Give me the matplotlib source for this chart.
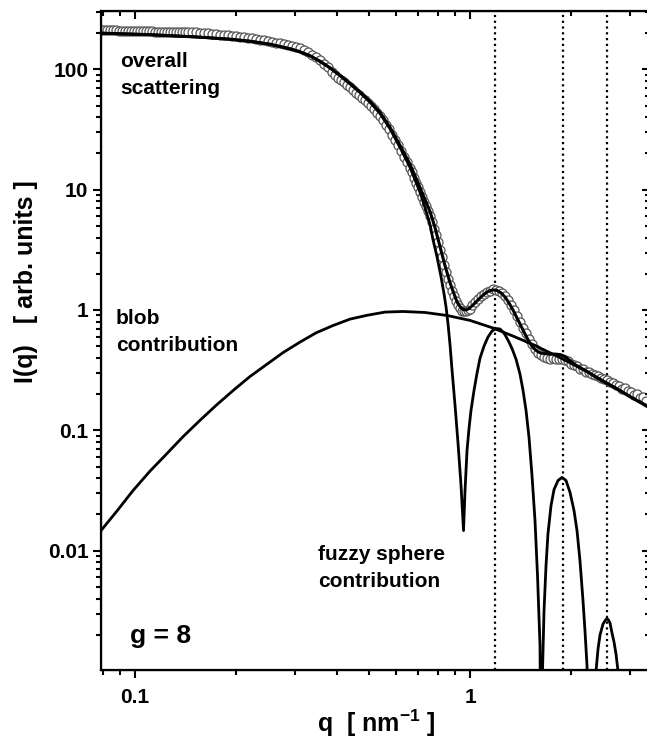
import matplotlib
matplotlib.use('Agg')
import matplotlib.pyplot as plt
import matplotlib.ticker as ticker

plt.rcParams['font.family'] = ['Liberation Sans', 'DejaVu Sans']
plt.rcParams['font.weight'] = 'bold'
plt.rcParams['mathtext.fontset'] = 'custom'
plt.rcParams['mathtext.rm'] = 'Liberation Sans:bold'
plt.rcParams['mathtext.bf'] = 'Liberation Sans:bold'

# measured data (open circles)
q_data = [0.0791, 0.0808, 0.0824, 0.0842, 0.0859, 0.0877, 0.0895, 0.0914, 0.0933, 0.0952,
          0.0972, 0.0992, 0.1013, 0.1034, 0.1055, 0.1077, 0.1100, 0.1123, 0.1146, 0.1170,
          0.1194, 0.1219, 0.1245, 0.1271, 0.1297, 0.1324, 0.1352, 0.1380, 0.1408, 0.1438,
          0.1480, 0.1521, 0.1563, 0.1607, 0.1652, 0.1698, 0.1745, 0.1794, 0.1844, 0.1895,
          0.1948, 0.2002, 0.2058, 0.2115, 0.2174, 0.2235, 0.2297, 0.2361, 0.2427, 0.2495,
          0.2564, 0.2636, 0.2709, 0.2785, 0.2862, 0.2942, 0.3024, 0.3108, 0.3195, 0.3284,
          0.3376, 0.3470, 0.3566, 0.3666, 0.3768,
          0.3874, 0.3954, 0.4035, 0.4120, 0.4206, 0.4293, 0.4383, 0.4474, 0.4567, 0.4662,
          0.4760, 0.4859, 0.4960, 0.5063, 0.5169, 0.5276, 0.5386, 0.5498, 0.5613, 0.5730,
          0.5849, 0.5971, 0.6095, 0.6222, 0.6352, 0.6484, 0.6619, 0.6711, 0.6804, 0.6898,
          0.6994, 0.7091, 0.7189, 0.7289, 0.7390, 0.7492, 0.7596, 0.7701, 0.7808, 0.7916,
          0.8026, 0.8137, 0.8250, 0.8364, 0.8480, 0.8598, 0.8717, 0.8837, 0.8960, 0.9084,
          0.9209, 0.9336, 0.9465, 0.9596, 0.9729, 0.9864, 1.0000,
          1.0138, 1.0349, 1.0565, 1.0785, 1.1010, 1.1239, 1.1473, 1.1712, 1.1956, 1.2205,
          1.2460, 1.2719, 1.2984, 1.3255, 1.3531, 1.3813, 1.4100, 1.4394, 1.4694, 1.5000,
          1.5312, 1.5631, 1.5957, 1.6289, 1.6629, 1.6975, 1.7329, 1.7690, 1.8058, 1.8434,
          1.8818, 1.9210, 1.9610, 2.0019, 2.0436, 2.0861, 2.1296, 2.1739, 2.2192, 2.2654,
          2.3126, 2.3608, 2.4100, 2.4602, 2.5114, 2.5637, 2.6171, 2.6716, 2.7273, 2.7841,
          2.8421, 2.9013, 2.9617, 3.0234, 3.0864, 3.1507, 3.2163, 3.2833, 3.3517]
I_data = [212, 212, 211.5, 211, 211, 210.5, 210, 210, 209.5, 209,
          209, 208.5, 208, 208, 207.5, 207, 207, 206.5, 206, 206,
          205.5, 205, 205, 204.5, 204, 204, 203.5, 203, 203, 202.5,
          203.4, 202.2, 201.1, 199.5, 198.4, 197.2, 195.7, 194.2, 192.8, 191.3,
          189.8, 188.4, 186.6, 184.8, 183.0, 181.3, 178.9, 176.5, 174.1, 171.8,
          169.5, 166.9, 164.7, 161.6, 159.1, 156.7, 154.0, 149.6, 144.0, 138.6,
          132.1, 125.9, 118.9, 111.1, 103.9,
          94.4, 89.1, 85.0, 81.0, 77.9, 74.3, 70.8, 66.8, 63.7, 60.7,
          57.9, 55.4, 52.5, 49.5, 46.5, 43.6, 41.0, 37.6, 34.5, 31.6,
          28.7, 25.9, 23.3, 21.0, 18.8, 16.9, 15.1, 13.9, 12.6, 11.4,
          10.6, 9.62, 8.74, 7.94, 7.29, 6.68, 6.07, 5.36, 4.73, 4.18,
          3.65, 3.16, 2.74, 2.37, 2.07, 1.81, 1.60, 1.44, 1.31, 1.19,
          1.10, 1.04, 0.990, 0.972, 0.981, 1.0, 1.02,
          1.10, 1.166, 1.235, 1.296, 1.346, 1.399, 1.445, 1.496, 1.468, 1.426,
          1.386, 1.308, 1.200, 1.101, 1.0, 0.891, 0.802, 0.715, 0.643, 0.579,
          0.521, 0.478, 0.442, 0.422, 0.406, 0.402, 0.394, 0.398, 0.394, 0.391,
          0.394, 0.383, 0.376, 0.358, 0.351, 0.341, 0.325, 0.322, 0.307, 0.304,
          0.296, 0.287, 0.282, 0.274, 0.266, 0.263, 0.251, 0.249, 0.237, 0.235,
          0.222, 0.224, 0.211, 0.209, 0.198, 0.200, 0.187, 0.188, 0.176]

# overall fit
q_fit = [0.0791, 0.1109, 0.1563, 0.1921, 0.2204, 0.2529, 0.2902, 0.3108, 0.3331, 0.3566,
         0.3821, 0.4091, 0.4383, 0.4694, 0.5029, 0.5386, 0.5770, 0.6181, 0.6621, 0.7092,
         0.7340, 0.7598, 0.7863, 0.8137, 0.8422, 0.8717, 0.8960, 0.9145, 0.9336, 0.9530,
         0.9729, 0.9931, 1.0208, 1.0493, 1.0785, 1.1085, 1.1394, 1.1714, 1.2040, 1.2376,
         1.2719, 1.3073, 1.3436, 1.3812, 1.4197, 1.4593, 1.5000, 1.5422, 1.5849, 1.6293,
         1.6747, 1.7329, 1.7934, 1.8565, 1.9210, 1.9885, 2.0580, 2.2355, 2.4443, 2.7096,
         3.0032, 3.4350]
I_fit = [199.5, 193.9, 184.8, 177.8, 171.1, 161.6, 148.2, 139.9, 129.6, 116.6,
         102.9, 89.1, 76.4, 64.9, 54.1, 43.8, 32.9, 23.3, 16.2, 10.4,
         8.25, 6.56, 4.82, 3.35, 2.33, 1.679, 1.359, 1.166, 1.069, 1.010,
         1.0, 1.029, 1.101, 1.189, 1.283, 1.372, 1.439, 1.468, 1.454, 1.386,
         1.283, 1.144, 1.0, 0.858, 0.736, 0.631, 0.546, 0.487, 0.455, 0.438,
         0.434, 0.430, 0.430, 0.426, 0.410, 0.3795, 0.3514, 0.308, 0.263, 0.226,
         0.190, 0.156]

# fuzzy sphere contribution
q_sphere = [0.0791, 0.1109, 0.1563, 0.1921, 0.2204, 0.2529, 0.2902, 0.3108, 0.3331, 0.3566,
            0.3821, 0.4091, 0.4383, 0.4694, 0.5029, 0.5386, 0.5770, 0.6181, 0.6621, 0.7092,
            0.7340, 0.7598, 0.7754, 0.7969, 0.8193, 0.8364, 0.8480, 0.8598, 0.8717, 0.8837,
            0.9020, 0.9209, 0.9400, 0.9563, 0.9662, 0.9796, 0.9931, 1.0069, 1.0279, 1.0493,
            1.0711, 1.1010, 1.1316, 1.1631, 1.1956, 1.2289, 1.2632, 1.2984, 1.3346, 1.3718,
            1.4100, 1.4394, 1.4694, 1.5000, 1.5312, 1.5631, 1.5904, 1.6181, 1.6348, 1.6461,
            1.6631, 1.6861, 1.7090, 1.7452, 1.7815, 1.8312, 1.8820, 1.9345, 1.9885, 2.0440,
            2.0865, 2.1296, 2.1744, 2.2043, 2.2355, 2.3051, 2.3780, 2.4108, 2.4443, 2.4952,
            2.5471, 2.5822, 2.6178, 2.6540, 2.6907, 2.7279, 2.7660, 2.8233]
I_sphere = [199.5, 193.9, 184.7, 177.6, 170.8, 161.2, 147.7, 139.4, 129.0, 116.0,
            102.2, 88.3, 75.5, 64.0, 53.2, 42.9, 32.0, 22.4, 15.3, 9.5,
            7.08, 5.11, 3.83, 2.765, 1.884, 1.359, 1.059, 0.764, 0.511, 0.316,
            0.1616, 0.0779, 0.0348, 0.01468, 0.0316, 0.0681, 0.1039, 0.1468, 0.2154, 0.2985,
            0.398, 0.501, 0.596, 0.668, 0.701, 0.695, 0.643, 0.562, 0.478, 0.391,
            0.293, 0.2154, 0.1468, 0.0874, 0.0422, 0.01778, 0.00619, 0.001616, 1e-5, 0.001,
            0.00316, 0.0075, 0.01386, 0.0237, 0.0322, 0.0383, 0.0406, 0.0383, 0.0305, 0.02154,
            0.01468, 0.00825, 0.00383, 0.00215, 0.0011, 1e-5, 0.001, 0.001526, 0.001995, 0.00246,
            0.00269, 0.00269, 0.00251, 0.00207, 0.001744, 0.001386, 0.001, 1e-5]

# blob contribution
q_blob = [0.0791, 0.0884, 0.0986, 0.1109, 0.1246, 0.1390, 0.1563, 0.1745, 0.1962, 0.2204,
          0.2478, 0.2765, 0.3108, 0.3470, 0.3899, 0.4383, 0.4927, 0.5577, 0.6310, 0.7340,
          0.8538, 1.0, 1.1714, 1.3436, 1.5422, 1.8565, 2.2355, 2.7466, 3.435]
I_blob = [0.01468, 0.02147, 0.03162, 0.04597, 0.0643, 0.0885, 0.1212, 0.1612, 0.2142, 0.2803,
          0.3548, 0.4423, 0.5412, 0.6457, 0.7427, 0.8398, 0.9034, 0.9605, 0.9716, 0.9532,
          0.9000, 0.8190, 0.7079, 0.6070, 0.5160, 0.4018, 0.3073, 0.2218, 0.153]

# positions of the fuzzy sphere maxima
q_peaks = [1.19, 1.90, 2.57]

fig = plt.figure(figsize=(6.47, 7.48), dpi=100)
ax = fig.add_axes([0.1561, 0.1043, 0.8478, 0.881])

for qp in q_peaks:
    ax.axvline(qp, color='black', ls=(0, (1, 1.6)), lw=1.6, zorder=1)

ax.plot(q_data, I_data, 'o', ms=6.5, mfc='white', mec='#555555', mew=0.9, zorder=2)
ax.plot(q_fit, I_fit, color='black', lw=2.2, zorder=3)
ax.plot(q_sphere, I_sphere, color='black', lw=2.0, zorder=3)
ax.plot(q_blob, I_blob, color='black', lw=2.0, zorder=3)

ax.set_xscale('log')
ax.set_yscale('log')
ax.set_xlim(0.0791, 3.435)
ax.set_ylim(1.02e-3, 305)

ax.xaxis.set_major_locator(ticker.FixedLocator([0.1, 1]))
ax.yaxis.set_major_locator(ticker.FixedLocator([0.01, 0.1, 1, 10, 100]))
fmt = ticker.FuncFormatter(lambda v, p: '{:g}'.format(v))
for axis in (ax.xaxis, ax.yaxis):
    axis.set_major_formatter(fmt)
    axis.set_minor_locator(ticker.LogLocator(base=10, subs=(2, 3, 4, 5, 6, 7, 8, 9), numticks=20))
    axis.set_minor_formatter(ticker.NullFormatter())

ax.tick_params(which='major', direction='out', length=6, width=1.5, labelsize=15)
ax.tick_params(which='minor', direction='out', length=3.5, width=1.5)
ax.tick_params(axis='x', which='major', pad=7)
ax.tick_params(axis='y', which='major', pad=3)
for sp in ax.spines.values():
    sp.set_linewidth(1.6)

# top and right ticks point inwards
axt = ax.twiny()
axt.set_xscale('log')
axt.set_xlim(ax.get_xlim())
axt.xaxis.set_major_locator(ticker.FixedLocator([0.1, 1]))
axt.xaxis.set_minor_locator(ticker.LogLocator(base=10, subs=(2, 3, 4, 5, 6, 7, 8, 9), numticks=20))
axt.tick_params(which='major', direction='in', length=6, width=1.5, labeltop=False)
axt.tick_params(which='minor', direction='in', length=3.5, width=1.5, labeltop=False)

axr = ax.twinx()
axr.set_yscale('log')
axr.set_ylim(ax.get_ylim())
axr.yaxis.set_major_locator(ticker.FixedLocator([0.01, 0.1, 1, 10, 100]))
axr.yaxis.set_minor_locator(ticker.LogLocator(base=10, subs=(2, 3, 4, 5, 6, 7, 8, 9), numticks=20))
axr.tick_params(which='major', direction='in', length=6, width=1.5, labelright=False)
axr.tick_params(which='minor', direction='in', length=3.5, width=1.5, labelright=False)

ax.set_xlabel(r'q  [ nm$^{-1}$ ]', fontsize=18, fontweight='bold', va='top')
ax.xaxis.set_label_coords(0.502, -0.0577)
ax.set_ylabel('I(q)   [ arb. units ]', fontsize=18, fontweight='bold')
ax.yaxis.set_label_coords(-0.115, 0.589)

ax.text(0.035, 0.938, 'overall\nscattering', transform=ax.transAxes, fontsize=15,
        fontweight='bold', va='top', ha='left', linespacing=1.55)
ax.text(0.027, 0.548, 'blob\ncontribution', transform=ax.transAxes, fontsize=15,
        fontweight='bold', va='top', ha='left', linespacing=1.55)
ax.text(0.396, 0.19, 'fuzzy sphere\ncontribution', transform=ax.transAxes, fontsize=15,
        fontweight='bold', va='top', ha='left', linespacing=1.55)
ax.text(0.053, 0.041, 'g = 8', transform=ax.transAxes, fontsize=19,
        fontweight='bold', va='baseline', ha='left')

plt.savefig('out.png', dpi=100)
